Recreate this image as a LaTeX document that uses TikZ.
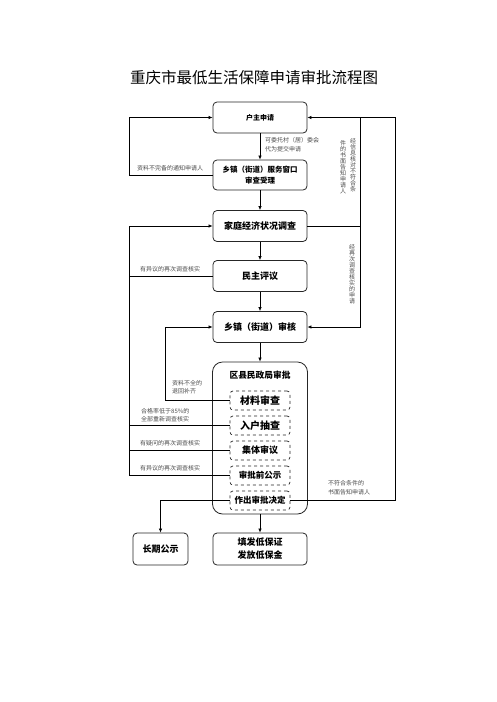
\documentclass[tikz,border=0pt]{standalone}
\usepackage{fontspec}
\newfontfamily\cjk{Noto Sans CJK SC}
\usetikzlibrary{arrows.meta}
\newcommand{\fs}[1]{\fontsize{#1}{#1}\selectfont}
\begin{document}
\begin{tikzpicture}[x=1pt,y=-1pt,font=\cjk,
  box/.style={draw=black!85,line width=0.8pt,rounded corners=4pt,minimum width=94pt,minimum height=31pt,inner sep=1pt,align=center,font=\cjk\bfseries\fontsize{9}{12}\selectfont},
  sub/.style={draw=black!85,dashed,line width=0.7pt,rounded corners=3pt,minimum width=60pt,minimum height=19pt,inner sep=1pt,align=center,font=\cjk\bfseries\fontsize{9}{11}\selectfont},
  note/.style={font=\cjk\fontsize{6}{8.5}\selectfont,text=black!70,inner sep=0pt,align=left},
  vnote/.style={font=\cjk\fontsize{6}{6}\selectfont,text=black!70,inner sep=0pt,align=center},
  arr/.style={-{Latex[length=4pt,width=3.5pt]},line width=0.7pt},
  ln/.style={line width=0.7pt}
]
\useasboundingbox (0,0) rectangle (496,702);

\node[font=\cjk\fontsize{15.5}{16}\selectfont] (title) at (254,78) {重庆市最低生活保障申请审批流程图};

\node[box,font=\cjk\bfseries\fontsize{7}{10}\selectfont] (hz) at (260,117.5) {户主申请};
\node[box,minimum height=30pt,font=\cjk\bfseries\fontsize{7.5}{11}\selectfont] (sl) at (260,175) {乡镇（街道）服务窗口\\审查受理};
\node[box] (dc) at (260,226) {家庭经济状况调查};
\node[box] (mz) at (260,276) {民主评议};
\node[box] (sh) at (260,327) {乡镇（街道）审核};
\node[box,rounded corners=10pt,minimum width=95pt,minimum height=152pt] (big) at (260,438) {};
\node[font=\cjk\bfseries\fs{8.7},inner sep=0pt] (bt) at (260,375) {区县民政局审批};
\node[sub,font=\cjk\bfseries\fs{10}] (s1) at (260,400.5) {材料审查};
\node[sub,font=\cjk\bfseries\fs{10}] (s2) at (260,425.5) {入户抽查};
\node[sub,font=\cjk\bfseries\fs{9}] (s3) at (260,450.5) {集体审议};
\node[sub,font=\cjk\bfseries\fs{8.5}] (s4) at (260,475.5) {审批前公示};
\node[sub,font=\cjk\bfseries\fs{8.5}] (s5) at (260,500.5) {作出审批决定};
\node[box,minimum height=32pt,font=\cjk\bfseries\fontsize{9}{13}\selectfont] (ff) at (260,549) {填发低保证\\发放低保金};
\node[box,minimum width=55pt,minimum height=32pt] (cq) at (160.5,549) {长期公示};

\coordinate (LX) at (129.5,0);
\coordinate (MX) at (165,0);
\coordinate (IX) at (360.5,0);
\coordinate (RX) at (395.5,0);

% main vertical flow
\draw[arr] (hz.south) -- (sl.north);
\draw[arr] (sl.south) -- (dc.north);
\draw[arr] (dc.south) -- (mz.north);
\draw[arr] (mz.south) -- (sh.north);
\draw[arr] (sh.south) -- (big.north);
\draw[arr] (big.south) -- (ff.north);

% left loops
\draw[arr] (sl.west) -- (sl.west -| LX) |- (hz.west);
\draw[arr] (s4.west) -- (s4.west -| LX) |- (dc.west);
\draw[ln] (mz.west) -- (mz.west -| LX);
\draw[ln] (s2.west) -- (s2.west -| LX);
\draw[ln] (s3.west) -- (s3.west -| LX);
\draw[arr] (s1.west) -- (s1.west -| MX) |- (sh.west);
\draw[arr] (s5.west) -| (cq.north);

% right loops
\draw[arr] (s5.east) -- (s5.east -| RX) |- (hz.east);
\draw[ln] (dc.east) -- (dc.east -| IX) -- (hz.east -| IX);
\draw[arr] (dc.east -| IX) |- (sh.east);

% notes
\node[note,anchor=west] (n1) at (265,144.5) {可委托村（居）委会\\代为提交申请};
\node[note,anchor=west] (n2) at (137,168) {资料不完备的通知申请人};
\node[vnote] (v1) at (353,165) {经\\信\\息\\核\\对\\不\\符\\合\\条};
\node[vnote] (v2) at (343,167) {件\\的\\书\\面\\告\\知\\申\\请\\人};
\node[vnote] (v3) at (352,274) {经\\再\\次\\调\\查\\核\\实\\的\\申\\请};
\node[note,anchor=west] (n3) at (140,269) {有异议的再次调查核实};
\node[note,anchor=west] (n4) at (172,387) {资料不全的\\退回补齐};
\node[note,anchor=west] (n5) at (141,415) {合格率低于85\%的\\全部重新调查核实};
\node[note,anchor=west] (n6) at (140,443) {有疑问的再次调查核实};
\node[note,anchor=west] (n7) at (140,468) {有异议的再次调查核实};
\node[note,anchor=west] (n8) at (328,487.5) {不符合条件的\\书面告知申请人};
\end{tikzpicture}
\end{document}
